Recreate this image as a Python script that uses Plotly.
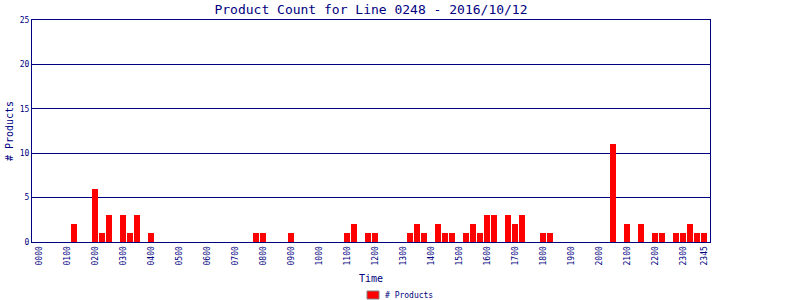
import plotly.graph_objects as go

# 15-minute slots 0..95 (0000 .. 2345)
slot_labels = [f"{(i // 4):02d}{(i % 4) * 15:02d}" for i in range(96)]
nonzero_slots = [5, 8, 9, 10, 12, 13, 14, 16, 31, 32, 36, 44, 45, 47, 48, 53, 54, 55,
                 57, 58, 59, 61, 62, 63, 64, 65, 67, 68, 69, 72, 73, 82, 84, 86, 88,
                 89, 91, 92, 93, 94, 95]
nonzero_counts = [2, 6, 1, 3, 3, 1, 3, 1, 1, 1, 1, 1, 2, 1, 1, 1, 2, 1,
                  2, 1, 1, 1, 2, 1, 3, 3, 3, 2, 3, 1, 1, 11, 2, 2, 1,
                  1, 1, 1, 2, 1, 1]
counts = [0] * 96
for s, c in zip(nonzero_slots, nonzero_counts):
    counts[s] = c

tick_slots = list(range(0, 96, 4)) + [95]
tick_text = [slot_labels[i] for i in tick_slots]
legend_label = "# Products"

NAVY = "#000080"
FONT = "DejaVu Sans Mono"
W, H = 800, 300
L, R, T, B = 32, 90, 20, 58

fig = go.Figure()
fig.add_trace(go.Bar(x=list(range(96)), y=counts, width=0.86,
                     marker=dict(color="#ff0000", line=dict(width=0)),
                     showlegend=False, name=legend_label))

# legend drawn as swatch + text below the plot
fig.add_shape(type="rect", xref="paper", yref="paper",
              x0=(367 - L) / (W - L - R), x1=(379 - L) / (W - L - R),
              y0=-(291 - (H - B)) / (H - T - B), y1=-(299 - (H - B)) / (H - T - B),
              fillcolor="#ff0000", line=dict(color="#808080", width=1))
fig.add_annotation(text=legend_label, xref="paper", yref="paper",
                   x=(383 - L) / (W - L - R), xanchor="left",
                   y=-(295 - (H - B)) / (H - T - B), yanchor="middle",
                   showarrow=False, font=dict(family=FONT, size=8, color=NAVY))

fig.update_layout(
    width=W, height=H,
    margin=dict(l=L, r=R, t=T, b=B),
    paper_bgcolor="white", plot_bgcolor="white",
    font=dict(family=FONT, color=NAVY),
    title=dict(text="Product Count for Line 0248 - 2016/10/12",
               x=371 / W, xanchor="center",
               y=1 - 9 / H, yanchor="middle",
               font=dict(family=FONT, size=13, color=NAVY)),
    bargap=0,
    showlegend=False,
    xaxis=dict(range=[-1, 95.86], tickmode="array", tickvals=tick_slots,
               ticktext=tick_text, tickangle=-90, automargin=False,
               tickfont=dict(family=FONT, size=8, color=NAVY),
               showgrid=False, zeroline=False, showline=True, linecolor=NAVY,
               linewidth=1, mirror=True, ticks="",
               title=dict(text="Time", font=dict(family=FONT, size=10, color=NAVY),
                          standoff=10)),
    yaxis=dict(range=[0, 25], tickmode="linear", dtick=5, automargin=False,
               tickfont=dict(family=FONT, size=8, color=NAVY),
               showgrid=True, gridcolor=NAVY, gridwidth=1, zeroline=False,
               showline=True, linecolor=NAVY, linewidth=1, mirror=True, ticks="",
               title=dict(text="# Products", font=dict(family=FONT, size=10, color=NAVY),
                          standoff=4)),
)

fig.write_html("out.html")
